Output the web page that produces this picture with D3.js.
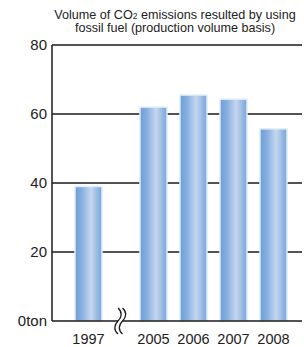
<!DOCTYPE html>
<html>
<head>
<meta charset="utf-8">
<script src="https://cdn.jsdelivr.net/npm/d3@7"></script>
<style>
  html, body { margin: 0; padding: 0; background: #fff; }
  svg { display: block; font-family: "Liberation Sans", Arial, sans-serif; }
</style>
</head>
<body>
<svg id="chart" width="307" height="347"></svg>
<script>
const years = ["1997", "2005", "2006", "2007", "2008"];
const values = [39, 62, 65.5, 64.3, 55.7];
const yTicks = [0, 20, 40, 60, 80];
const yTickLabels = ["0ton", "20", "40", "60", "80"];
const titleLines = [["Volume of CO", "2", " emissions resulted by using"], ["fossil fuel (production volume basis)"]];

(function () {
const svg = d3.select("#chart");
const mLeft = 52, mRight = 302, mTop = 45, mBottom = 321;
const breakShift = 25;

const y = d3.scaleLinear().domain([0, 80]).range([mBottom, mTop]);
const x = d3.scaleBand().domain(years).range([68.5, 268.5]).paddingInner(0.325).paddingOuter(0.1625);
const xPos = d => x(d) + (d === years[0] ? 0 : breakShift);

const defs = svg.append("defs");
const grad = defs.append("linearGradient").attr("id", "barGrad").attr("x1", "0").attr("x2", "1").attr("y1", "0").attr("y2", "0");
grad.append("stop").attr("offset", "0%").attr("stop-color", "#6d9dd8");
grad.append("stop").attr("offset", "25%").attr("stop-color", "#86afe0");
grad.append("stop").attr("offset", "60%").attr("stop-color", "#c6d7ef");
grad.append("stop").attr("offset", "85%").attr("stop-color", "#92b6e3");
grad.append("stop").attr("offset", "100%").attr("stop-color", "#7aa6dc");

// gridlines
svg.append("g").selectAll("line").data(yTicks.filter(t => t > 0)).join("line")
  .attr("x1", mLeft).attr("x2", mRight)
  .attr("y1", d => y(d)).attr("y2", d => y(d))
  .attr("stroke", "#1a1a1a").attr("stroke-width", 1.3);

// bars
svg.append("g").selectAll("rect").data(years).join("rect")
  .attr("x", d => xPos(d))
  .attr("y", (d, i) => y(values[i]))
  .attr("width", x.bandwidth())
  .attr("height", (d, i) => y(0) - y(values[i]))
  .attr("fill", "url(#barGrad)")
  .attr("stroke", "#e4edf8").attr("stroke-width", 1.5);

// axes
svg.append("line").attr("x1", mLeft).attr("x2", mLeft).attr("y1", y(80)).attr("y2", y(0))
  .attr("stroke", "#1a1a1a").attr("stroke-width", 1.5);
svg.append("line").attr("x1", mLeft).attr("x2", mRight).attr("y1", y(0)).attr("y2", y(0))
  .attr("stroke", "#1a1a1a").attr("stroke-width", 1.5);

// break mark
const bx = (xPos(years[0]) + x.bandwidth() + xPos(years[1])) / 2;
const by = y(0);
svg.append("rect").attr("x", bx - 3).attr("y", by - 2).attr("width", 4.5).attr("height", 4).attr("fill", "#fff");
const wave = (cx) => `M${cx},${by - 13} C${cx + 4.5},${by - 9} ${cx + 4},${by - 4} ${cx},${by} C${cx - 4},${by + 4} ${cx - 4.5},${by + 9} ${cx},${by + 13}`;
[bx - 3, bx + 1.5].forEach(cx => {
  svg.append("path").attr("d", wave(cx)).attr("fill", "none").attr("stroke", "#1a1a1a").attr("stroke-width", 1.3);
});

// y tick labels
svg.append("g").selectAll("text").data(yTicks).join("text")
  .attr("x", 47).attr("y", d => y(d)).attr("dy", "0.36em")
  .attr("text-anchor", "end").attr("font-size", 15).attr("fill", "#222")
  .text((d, i) => yTickLabels[i]);

// x labels
svg.append("g").selectAll("text").data(years).join("text")
  .attr("x", d => xPos(d) + x.bandwidth() / 2).attr("y", 344)
  .attr("text-anchor", "middle").attr("font-size", 14.5).attr("fill", "#222")
  .text(d => d);

// title
const t = svg.append("text").attr("text-anchor", "middle").attr("font-size", 12.6).attr("fill", "#222");
const l1 = t.append("tspan").attr("x", 175).attr("y", 19);
l1.append("tspan").text(titleLines[0][0]);
l1.append("tspan").attr("font-size", 8.5).text(titleLines[0][1]);
l1.append("tspan").text(titleLines[0][2]);
t.append("tspan").attr("x", 175).attr("y", 32).text(titleLines[1][0]);
})();
</script>
</body>
</html>
